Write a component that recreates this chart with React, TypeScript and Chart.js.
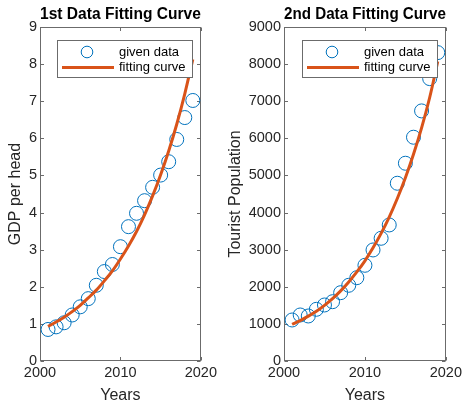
import React, { useEffect, useRef } from "react";
import { Chart, registerables } from "chart.js";

Chart.register(...registerables);

const years = [2001, 2002, 2003, 2004, 2005, 2006, 2007, 2008, 2009, 2010, 2011, 2012, 2013, 2014, 2015, 2016, 2017, 2018, 2019];
const gdpGiven = [0.85, 0.92, 1.03, 1.24, 1.46, 1.68, 2.04, 2.41, 2.6, 3.08, 3.62, 3.98, 4.32, 4.68, 5.01, 5.37, 5.97, 6.56, 7.02];
const gdpFit = [0.93, 1.05, 1.18, 1.33, 1.5, 1.7, 1.91, 2.16, 2.43, 2.75, 3.1, 3.49, 3.94, 4.45, 5.02, 5.66, 6.38, 7.2, 8.13];
const touristGiven = [1105, 1240, 1213, 1393, 1509, 1598, 1841, 2040, 2245, 2579, 2992, 3307, 3666, 4790, 5329, 6030, 6739, 7609, 8310];
const touristFit = [990, 1090, 1210, 1340, 1500, 1680, 1890, 2130, 2400, 2700, 3050, 3440, 3880, 4380, 4940, 5570, 6280, 7100, 8070];

const legendLabels = ["given data", "fitting curve"];

const FONT = "'Liberation Sans', Arial, Helvetica, sans-serif";
const BLUE = "#0072BD";
const ORANGE = "#D95319";
const TEXT = "#262626";
const AXIS = "#6b6b6b";

const boxPlugin = {
  id: "matlabBox",
  beforeDatasetsDraw(chart: any) {
    const { ctx, chartArea, scales } = chart;
    const L = Math.round(chartArea.left) + 0.5;
    const R = Math.round(chartArea.right) - 0.5;
    const T = Math.round(chartArea.top) + 0.5;
    const B = Math.round(chartArea.bottom) - 0.5;
    const tl = 3.5;
    ctx.save();
    ctx.strokeStyle = AXIS;
    ctx.lineWidth = 1;
    ctx.strokeRect(L, T, R - L, B - T);
    ctx.beginPath();
    for (const t of scales.x.ticks) {
      const px = Math.round(scales.x.getPixelForValue(t.value)) + 0.5;
      ctx.moveTo(px, B);
      ctx.lineTo(px, B - tl);
      ctx.moveTo(px, T);
      ctx.lineTo(px, T + tl);
    }
    for (const t of scales.y.ticks) {
      const py = Math.round(scales.y.getPixelForValue(t.value)) + 0.5;
      ctx.moveTo(L, py);
      ctx.lineTo(L + tl, py);
      ctx.moveTo(R, py);
      ctx.lineTo(R - tl, py);
    }
    ctx.stroke();
    ctx.restore();
  },
};

const legendPlugin = {
  id: "matlabLegend",
  afterDatasetsDraw(chart: any) {
    const { ctx, chartArea } = chart;
    const w = 136;
    const h = 38;
    const right = Math.round(chartArea.right) - 8;
    const left = right - w;
    const top = Math.round(chartArea.top) + 13;
    ctx.save();
    ctx.fillStyle = "#ffffff";
    ctx.fillRect(left, top, w, h);
    ctx.strokeStyle = AXIS;
    ctx.lineWidth = 1;
    ctx.strokeRect(left + 0.5, top + 0.5, w - 1, h - 1);
    ctx.strokeStyle = BLUE;
    ctx.beginPath();
    ctx.arc(left + 30, top + 12, 5.8, 0, Math.PI * 2);
    ctx.stroke();
    ctx.strokeStyle = ORANGE;
    ctx.lineWidth = 3;
    ctx.beginPath();
    ctx.moveTo(left + 5, top + 27.5);
    ctx.lineTo(left + 57, top + 27.5);
    ctx.stroke();
    ctx.fillStyle = "#000000";
    ctx.font = `13px ${FONT}`;
    ctx.textBaseline = "middle";
    ctx.textAlign = "left";
    ctx.fillText(legendLabels[0], left + 62, top + 12);
    ctx.fillText(legendLabels[1], left + 62, top + 27.5);
    ctx.restore();
  },
};

function makeConfig(opts: {
  title: string;
  yTitle: string;
  given: number[];
  fit: number[];
  yMax: number;
  yStep: number;
  yWidth: number;
  yTitlePad: number;
  padRight: number;
}): any {
  return {
    type: "scatter",
    data: {
      datasets: [
        {
          label: legendLabels[0],
          data: years.map((x, i) => ({ x, y: opts.given[i] })),
          pointStyle: "circle",
          pointRadius: 7,
          pointBorderWidth: 1,
          pointBorderColor: BLUE,
          pointBackgroundColor: "rgba(0,0,0,0)",
          showLine: false,
          order: 2,
        },
        {
          label: legendLabels[1],
          type: "line",
          data: years.map((x, i) => ({ x, y: opts.fit[i] })),
          borderColor: ORANGE,
          borderWidth: 3,
          pointRadius: 0,
          cubicInterpolationMode: "monotone",
          fill: false,
          order: 1,
        },
      ],
    },
    options: {
      responsive: false,
      animation: false,
      devicePixelRatio: 1,
      layout: { padding: { top: 0, left: 0, right: opts.padRight, bottom: 0 } },
      plugins: {
        legend: { display: false },
        tooltip: { enabled: false },
        title: {
          display: true,
          text: opts.title,
          fullSize: false,
          color: "#000000",
          font: { family: FONT, size: 16, weight: "bold", lineHeight: 1.2 },
          padding: { top: 5, bottom: 2.8 },
        },
      },
      scales: {
        x: {
          type: "linear",
          min: 2000,
          max: 2020,
          grid: { display: false, drawTicks: false },
          border: { display: false },
          ticks: {
            stepSize: 10,
            color: TEXT,
            padding: 3,
            font: { family: FONT, size: 14.5 },
            callback: (v: any) => String(v),
          },
          title: {
            display: true,
            text: "Years",
            color: TEXT,
            font: { family: FONT, size: 16, lineHeight: 1 },
            padding: { top: 0, bottom: -1 },
          },
          afterFit: (s: any) => {
            s.height = 42;
          },
        },
        y: {
          type: "linear",
          min: 0,
          max: opts.yMax,
          grid: { display: false, drawTicks: false },
          border: { display: false },
          ticks: {
            stepSize: opts.yStep,
            color: TEXT,
            padding: 3,
            font: { family: FONT, size: 14.5 },
            callback: (v: any) => String(v),
          },
          title: {
            display: true,
            text: opts.yTitle,
            color: TEXT,
            font: { family: FONT, size: 16, lineHeight: 1.2 },
            padding: { top: opts.yTitlePad, bottom: 0 },
          },
          afterFit: (s: any) => {
            s.width = opts.yWidth;
          },
        },
      },
    },
    plugins: [boxPlugin, legendPlugin],
  };
}

function ChartCanvas(props: { config: () => any; left: number; width: number }) {
  const ref = useRef<HTMLCanvasElement | null>(null);
  useEffect(() => {
    if (!ref.current) return;
    const chart = new Chart(ref.current, props.config());
    return () => chart.destroy();
  }, []);
  return (
    <canvas
      ref={ref}
      width={props.width}
      height={403}
      style={{ position: "absolute", left: props.left, top: 0, width: props.width, height: 403 }}
    />
  );
}

export default function App() {
  return (
    <div style={{ position: "absolute", left: 0, top: 0, width: 465, height: 403, background: "#ffffff" }}>
      <ChartCanvas
        left={0}
        width={220}
        config={() =>
          makeConfig({
            title: "1st Data Fitting Curve",
            yTitle: "GDP per head",
            given: gdpGiven,
            fit: gdpFit,
            yMax: 9,
            yStep: 1,
            yWidth: 40,
            yTitlePad: 5.9,
            padRight: 12,
          })
        }
      />
      <ChartCanvas
        left={220}
        width={245}
        config={() =>
          makeConfig({
            title: "2nd Data Fitting Curve",
            yTitle: "Tourist Population",
            given: touristGiven,
            fit: touristFit,
            yMax: 9000,
            yStep: 1000,
            yWidth: 64,
            yTitlePad: 5.7,
            padRight: 15,
          })
        }
      />
    </div>
  );
}
